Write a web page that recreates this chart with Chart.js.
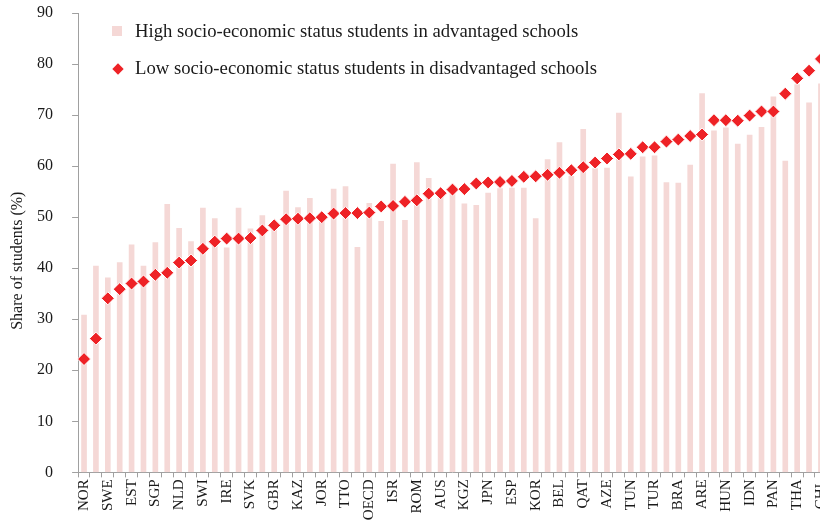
<!DOCTYPE html>
<html>
<head>
<meta charset="utf-8">
<script src="https://cdn.jsdelivr.net/npm/chart.js@4.4.0/dist/chart.umd.min.js"></script>
<style>
  html, body { margin: 0; padding: 0; background: #fff; overflow: hidden; }
  #wrap { position: relative; width: 841px; height: 523px; }
  #legend { position: absolute; left: 0; top: 0; font-family: "Liberation Serif", "Times New Roman", serif; font-size: 18.7px; color: #1a1a1a; }
  #legend .txt { position: absolute; left: 135px; white-space: nowrap; line-height: 1; }
  #legend .mark { position: absolute; }
</style>
</head>
<body>
<div id="wrap">
  <canvas id="chart"></canvas>
  <div id="legend"></div>
</div>
<script>
// Categorías (solo una de cada dos lleva etiqueta en el eje)
const countries = [
  "NOR", "", "SWE", "", "EST", "", "SGP", "", "NLD", "", "SWI", "", "IRE", "", "SVK", "",
  "GBR", "", "KAZ", "", "JOR", "", "TTO", "", "OECD", "", "ISR", "", "ROM", "", "AUS", "",
  "KGZ", "", "JPN", "", "ESP", "", "KOR", "", "BEL", "", "QAT", "", "AZE", "", "TUN", "",
  "TUR", "", "BRA", "", "ARE", "", "HUN", "", "IDN", "", "PAN", "", "THA", "", "CHL"
];

// Alumnos de nivel alto en escuelas favorecidas (barras)
const highSES = [
  30.8, 40.4, 38.1, 41.1, 44.6, 40.4, 45.0, 52.5, 47.8, 45.2, 51.8, 49.7, 44.0, 51.8, 47.7, 50.3,
  48.0, 55.1, 51.9, 53.7, 49.5, 55.5, 56.0, 44.1, 52.7, 49.2, 60.4, 49.4, 60.7, 57.6, 54.0, 55.0,
  52.6, 52.3, 54.7, 55.6, 55.7, 55.7, 49.7, 61.3, 64.6, 58.0, 67.2, 59.5, 59.6, 70.4, 57.9, 61.8,
  62.0, 56.8, 56.7, 60.2, 74.2, 66.9, 67.5, 64.3, 66.1, 67.6, 73.6, 61.0, 76.0, 72.4, 76.1
];

// Alumnos de nivel bajo en escuelas desfavorecidas (rombos)
const lowSES = [
  22.2, 26.2, 34.1, 35.9, 37.0, 37.4, 38.7, 39.1, 41.1, 41.5, 43.8, 45.2, 45.8, 45.8, 45.9, 47.4,
  48.4, 49.6, 49.7, 49.8, 50.0, 50.7, 50.8, 50.8, 50.9, 52.1, 52.2, 53.0, 53.3, 54.6, 54.7, 55.4,
  55.5, 56.6, 56.8, 56.9, 57.1, 57.9, 58.0, 58.3, 58.7, 59.2, 59.8, 60.7, 61.5, 62.3, 62.4, 63.7,
  63.7, 64.8, 65.2, 65.9, 66.2, 69.0, 69.0, 68.9, 69.9, 70.7, 70.7, 74.2, 77.2, 78.7, 81.0
];

const yMin = 0;
const yMax = 90;
const yStep = 10;

const pink = "#f5d8d6";
const red = "#ee2226";
const axisGrey = "#a0a0a0";
const textColor = "#1a1a1a";
const serif = "'Liberation Serif', 'Times New Roman', serif";

const ctx = document.getElementById("chart").getContext("2d");
const chart = new Chart(ctx, {
  type: "bar",
  data: {
    labels: countries,
    datasets: [
      {
        type: "line",
        label: "Low socio-economic status students in disadvantaged schools",
        data: lowSES,
        showLine: false,
        pointStyle: "rectRot",
        pointRadius: 6.5,
        pointBackgroundColor: red,
        pointBorderColor: "#ffffff",
        pointBorderWidth: 1,
        order: 0
      },
      {
        label: "High socio-economic status students in advantaged schools",
        data: highSES,
        backgroundColor: pink,
        barThickness: 5,
        order: 1
      }
    ]
  },
  options: {
    responsive: true,
    maintainAspectRatio: false,
    animation: false,
    layout: { padding: { left: 4, top: 13, right: 6, bottom: 0.8 } },
    plugins: {
      legend: { display: false },
      tooltip: { enabled: false }
    },
    scales: {
      x: {
        grid: { offset: true, drawOnChartArea: false, tickLength: 5, color: axisGrey },
        border: { color: axisGrey },
        ticks: {
          autoSkip: false, minRotation: 90, maxRotation: 90, padding: 2,
          color: textColor, font: { family: serif, size: 15 }
        }
      },
      y: {
        min: yMin,
        max: yMax,
        // marca de 6 px junto al eje, el resto del trazo queda en blanco
        grid: { drawOnChartArea: false, tickLength: 25, tickBorderDash: [6, 19], tickBorderDashOffset: 6, color: axisGrey },
        border: { color: axisGrey },
        ticks: { stepSize: yStep, padding: 0, color: textColor, font: { family: serif, size: 16 } },
        title: {
          display: true,
          text: "Share of students (%)         ",
          color: textColor,
          font: { family: serif, size: 16 },
          padding: { top: 4, bottom: 9.9 }
        }
      }
    }
  }
});

// Leyenda dentro del área del gráfico
const legend = document.getElementById("legend");
const barSet = chart.data.datasets[1];
const pointSet = chart.data.datasets[0];
legend.innerHTML =
  '<div class="mark" style="left:112px;top:26px;width:10px;height:10px;background:' + barSet.backgroundColor + '"></div>' +
  '<div class="txt" style="top:21.6px">' + barSet.label + '</div>' +
  '<div class="mark" style="left:114px;top:65.3px;width:8px;height:8px;transform:rotate(45deg);background:' + pointSet.pointBackgroundColor + '"></div>' +
  '<div class="txt" style="top:58.6px">' + pointSet.label + '</div>';
</script>
</body>
</html>
